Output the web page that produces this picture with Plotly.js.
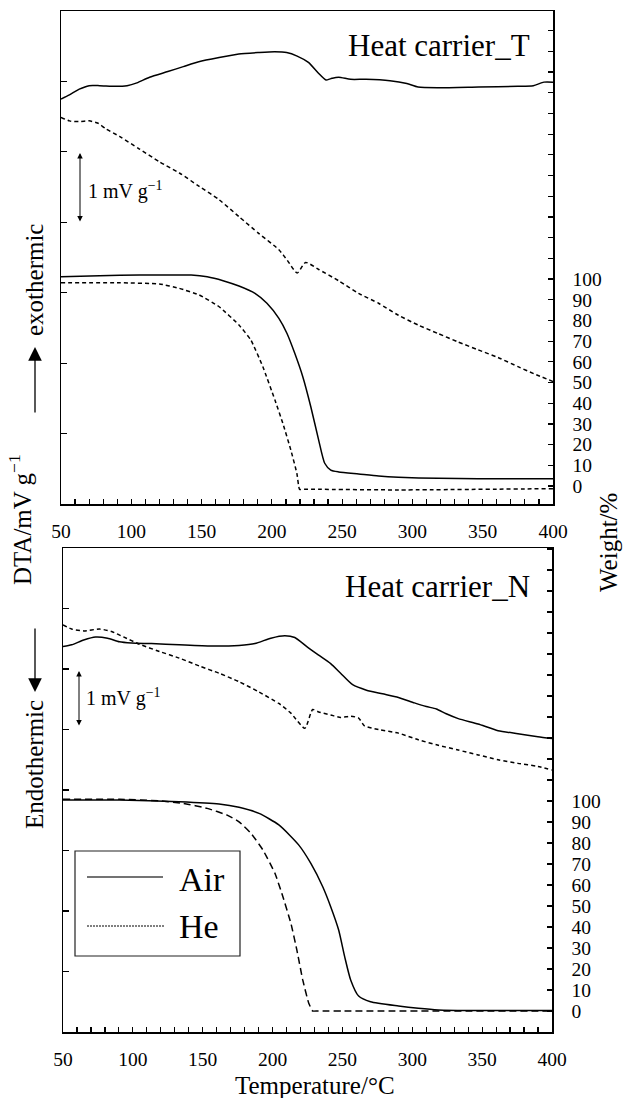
<!DOCTYPE html>
<html>
<head>
<meta charset="utf-8">
<script src="https://cdn.plot.ly/plotly-3.0.1.min.js"></script>
<style>html,body{margin:0;padding:0;background:#fff;}#chart{width:623px;height:1098px;}</style>
</head>
<body>
<div id="chart"></div>
<script>
// ---------- DATA ----------
// Panel T (Heat carrier_T) : DTA (mV/g, arbitrary offset) and weight (%)
const tT_dtaAir = [50, 56, 63, 70, 77.5, 89, 97, 104, 113, 126, 137, 148, 162.5, 176.5, 191, 202, 210.5, 218, 226, 233, 238.5, 242, 247.5, 256, 267, 284, 296, 304, 318, 347, 375, 386, 393.5, 400];
const dtaT_air  = [5.75, 5.81, 5.89, 5.94, 5.94, 5.93, 5.94, 5.98, 6.06, 6.14, 6.21, 6.28, 6.34, 6.39, 6.41, 6.42, 6.41, 6.36, 6.27, 6.12, 6.02, 6.04, 6.06, 6.03, 6.03, 6.01, 5.97, 5.92, 5.91, 5.92, 5.93, 5.94, 5.99, 5.99];
const tT_dtaHe  = [50, 56, 63, 70, 76, 81.7, 91.6, 105.8, 120, 134.2, 148.3, 162.5, 176.6, 190.8, 205, 211, 218, 224, 233.3, 247.5, 261.7, 275.9, 290, 304.2, 318.3, 332.6, 346.6, 360.9, 375.1, 386.4, 400];
const dtaT_he   = [5.49, 5.44, 5.43, 5.44, 5.41, 5.33, 5.22, 5.04, 4.86, 4.70, 4.51, 4.32, 4.08, 3.84, 3.61, 3.46, 3.28, 3.43, 3.33, 3.17, 2.99, 2.85, 2.68, 2.54, 2.42, 2.30, 2.19, 2.08, 1.95, 1.85, 1.74];
const tT_wAir   = [50, 77.5, 105.8, 142.6, 154, 165.3, 176.6, 188, 196.5, 205, 210.7, 216.3, 222, 227.7, 233.3, 237.6, 241.9, 247.5, 261.7, 275.9, 290, 318.3, 346.6, 400];
const wT_air    = [101.1, 101.6, 101.9, 101.9, 101.1, 99.2, 96.6, 93.1, 88.3, 81, 73.8, 64.1, 52.8, 38.3, 22.2, 11, 7.7, 6.8, 5.8, 4.8, 4.2, 3.7, 3.5, 3.5];
const tT_wHe    = [50, 91.6, 120, 134.2, 148.3, 162.5, 176.6, 185.1, 193.6, 202.2, 207.8, 213.5, 217.8, 219.7, 223, 228, 233.3, 290, 400];
const wT_he     = [98.2, 98.2, 97.6, 95.5, 92.3, 86.6, 77.8, 70.5, 57.6, 41.5, 30.3, 17.4, 6.1, -1.6, -1.6, -1.6, -1.6, -1.9, -1.3];

// Panel N (Heat carrier_N)
const tN_dtaAir = [50, 56.2, 64.8, 73.3, 81.9, 90.4, 99, 113.3, 133.2, 156.1, 176, 187.4, 198.8, 208.8, 215.9, 224.5, 233, 241.6, 248.7, 257.3, 267.2, 278.7, 290.1, 301.5, 310, 317.2, 324.3, 332.9, 347.1, 361.4, 375.6, 389.9, 400];
const dtaN_air  = [6.37, 6.40, 6.48, 6.53, 6.51, 6.45, 6.43, 6.42, 6.40, 6.38, 6.39, 6.42, 6.51, 6.55, 6.52, 6.37, 6.23, 6.09, 5.93, 5.74, 5.65, 5.59, 5.53, 5.44, 5.38, 5.34, 5.26, 5.18, 5.09, 4.98, 4.93, 4.88, 4.85];
const tN_dtaHe  = [50, 56.2, 64.8, 76.2, 84.8, 93.3, 104.7, 119, 133.2, 147.5, 161.7, 176, 190.3, 204.5, 213.1, 223.1, 228.7, 233, 241.6, 248.7, 255.9, 261.6, 265.8, 275.8, 290.1, 304.3, 318.6, 332.9, 347.1, 361.4, 375.6, 389.9, 400];
const dtaN_he   = [6.73, 6.66, 6.63, 6.66, 6.62, 6.53, 6.41, 6.29, 6.18, 6.05, 5.93, 5.79, 5.62, 5.43, 5.27, 5.02, 5.33, 5.29, 5.24, 5.20, 5.22, 5.19, 5.06, 5.00, 4.94, 4.83, 4.74, 4.66, 4.58, 4.50, 4.44, 4.39, 4.33];
const tN_wAir   = [50, 90.4, 133.2, 161.7, 176, 190.3, 204.5, 218.8, 227.4, 235.9, 241.6, 247.3, 251.6, 255.9, 261.6, 270.1, 290.1, 304.3, 318.6, 347.1, 400];
const wN_air    = [100.5, 100.5, 99.7, 98.6, 97, 94.1, 88.6, 79, 70.3, 59.2, 49.7, 38.6, 25.9, 14.8, 7.1, 4.4, 2.4, 1.3, 0.5, 0.2, 0.2];
const tN_wHe    = [50, 90.4, 119, 136.1, 153.2, 167.5, 176, 184.6, 193.1, 201.7, 207.4, 213.1, 217.4, 221.6, 225.9, 228.7, 232, 237, 250, 400];
const wN_he     = [100.8, 100.8, 100.1, 98.9, 96.5, 93.3, 90.1, 84.6, 76.7, 65.6, 54.4, 41.8, 29, 14.8, 3.7, 0, 0, 0, 0, 0];

// Tick labels / categories
const weightTickVals = [0,10,20,30,40,50,60,70,80,90,100,110,120,130,140,150,160,170,180,190,200,210,220];
const weightTickText = ['0','10','20','30','40','50','60','70','80','90','100','','','','','','','','','','','',''];
const seriesNames = ['Air', 'He'];
const panelNames = ['Heat carrier_T', 'Heat carrier_N'];

// ---------- LAYOUT HELPERS ----------
const W = 623, H = 1098;
const fx = p => p / W;
const fy = p => 1 - p / H;
const FONT = 'Liberation Serif, Times New Roman, serif';
const BLK = '#000';

function line(x, y, xa, ya, dash, name, smooth) {
  return {x: x, y: y, xaxis: xa, yaxis: ya, type: 'scatter', mode: 'lines', name: name,
    line: {color: BLK, width: 1.5, dash: dash || 'solid', shape: 'spline', smoothing: smooth || 0.6},
    hoverinfo: 'skip', showlegend: false};
}

const data = [
  line(tT_dtaAir, dtaT_air, 'x', 'y', 'solid', seriesNames[0]),
  line(tT_dtaHe, dtaT_he, 'x', 'y', '4px,3px', seriesNames[1]),
  line(tT_wAir, wT_air, 'x', 'y2', 'solid', seriesNames[0]),
  line(tT_wHe, wT_he, 'x', 'y2', '4px,3px', seriesNames[1], 0.4),
  line(tN_dtaAir, dtaN_air, 'x2', 'y3', 'solid', seriesNames[0]),
  line(tN_dtaHe, dtaN_he, 'x2', 'y3', '4px,3px', seriesNames[1]),
  line(tN_wAir, wN_air, 'x2', 'y4', 'solid', seriesNames[0]),
  line(tN_wHe, wN_he, 'x2', 'y4', '7px,4px', seriesNames[1], 0.4)
];

function xAxis(dom, anchor) {
  return {domain: dom, anchor: anchor, range: [50, 400], tick0: 50, dtick: 50,
    ticks: 'inside', ticklen: 5, tickwidth: 1.2, tickcolor: BLK,
    minor: {tick0: 50, dtick: 10, ticks: 'inside', ticklen: 5, tickwidth: 1.2, tickcolor: BLK, showgrid: false},
    showline: true, linewidth: 1.5, linecolor: BLK, mirror: true,
    showgrid: false, zeroline: false, ticklabelstandoff: 9,
    tickfont: {family: FONT, size: 19.5, color: BLK}, fixedrange: true};
}
function yLeft(dom, anchor, top) {
  return {domain: dom, anchor: anchor, range: [0, top], tick0: 0, dtick: 1,
    ticks: 'inside', ticklen: 6, tickwidth: 1.2, tickcolor: BLK, showticklabels: false,
    showline: true, linewidth: 1.5, linecolor: BLK, mirror: true,
    showgrid: false, zeroline: false, fixedrange: true};
}
function yRight(over, anchor, rng) {
  return {overlaying: over, side: 'right', anchor: anchor, range: rng,
    tickmode: 'array', tickvals: weightTickVals, ticktext: weightTickText,
    ticks: 'inside', ticklen: 5, tickwidth: 1.2, tickcolor: BLK,
    showline: true, linewidth: 1.5, linecolor: BLK,
    showgrid: false, zeroline: false, ticklabelstandoff: 14,
    tickfont: {family: FONT, size: 19.5, color: BLK}, fixedrange: true};
}

function txt(text, x, y, size, opts) {
  return Object.assign({text: text, xref: 'paper', yref: 'paper', x: fx(x), y: fy(y),
    showarrow: false, font: {family: FONT, size: size, color: BLK},
    xanchor: 'center', yanchor: 'middle'}, opts || {});
}
function arrow(xTip, yTip, xTail, yTail, head, size, width, side) {
  return {text: '', xref: 'paper', yref: 'paper', x: fx(xTip), y: fy(yTip),
    axref: 'pixel', ayref: 'pixel', ax: xTail - xTip, ay: yTail - yTip,
    showarrow: true, arrowhead: head, arrowsize: size, arrowwidth: width,
    arrowcolor: BLK, arrowside: side || 'end', standoff: 0, startstandoff: 0,
    startarrowhead: head, startarrowsize: size};
}

const sup = '<sup>−1</sup>';
const annotations = [
  txt(panelNames[0], 532, 45, 31, {xanchor: 'right'}),
  txt(panelNames[1], 532, 586, 31, {xanchor: 'right'}),
  txt('1 mV g' + sup, 86, 190, 20, {xanchor: 'left'}),
  txt('1 mV g' + sup, 84, 697, 20, {xanchor: 'left'}),
  arrow(80, 153, 80, 223, 2, 1.1, 1, 'end+start'),
  arrow(79, 671, 79, 727, 2, 1.1, 1, 'end+start'),
  arrow(35, 347, 35, 414, 2, 2.1, 1.3),
  arrow(35, 692, 35, 627, 2, 2.1, 1.3),
  txt('exothermic', 34, 280, 25, {textangle: -90}),
  txt('DTA/mV g' + sup, 20, 520, 25, {textangle: -90}),
  txt('Endothermic', 34, 765, 25, {textangle: -90}),
  txt('Weight/%', 608, 543, 25, {textangle: -90}),
  txt('Temperature/°C', 315, 1085, 25),
  txt(seriesNames[0], 177, 879, 34, {xanchor: 'left'}),
  txt(seriesNames[1], 177, 926, 34, {xanchor: 'left'})
];

const shapes = [
  {type: 'rect', xref: 'paper', yref: 'paper', x0: fx(75), x1: fx(240), y0: fy(956), y1: fy(851),
    line: {color: '#222', width: 1.2}, fillcolor: 'rgba(0,0,0,0)'},
  {type: 'line', xref: 'paper', yref: 'paper', x0: fx(87), x1: fx(163), y0: fy(877), y1: fy(877),
    line: {color: '#444', width: 1.5}},
  {type: 'line', xref: 'paper', yref: 'paper', x0: fx(87), x1: fx(165), y0: fy(926), y1: fy(926),
    line: {color: BLK, width: 1, dash: '2px,1px'}}
];

const layout = {
  width: W, height: H, margin: {l: 0, r: 0, t: 0, b: 0},
  paper_bgcolor: '#fff', plot_bgcolor: '#fff', showlegend: false,
  font: {family: FONT, size: 19, color: BLK},
  xaxis: xAxis([fx(61), fx(553)], 'y'),
  yaxis: yLeft([fy(504), fy(11)], 'x', 7),
  yaxis2: yRight('y', 'x', [-8.7, 229.5]),
  xaxis2: xAxis([fx(63), fx(552)], 'y3'),
  yaxis3: yLeft([fy(1032), fy(548)], 'x2', 8),
  yaxis4: yRight('y3', 'x2', [-10, 220.5]),
  annotations: annotations,
  shapes: shapes
};

Plotly.newPlot('chart', data, layout, {staticPlot: true, displayModeBar: false});
</script>
</body>
</html>
